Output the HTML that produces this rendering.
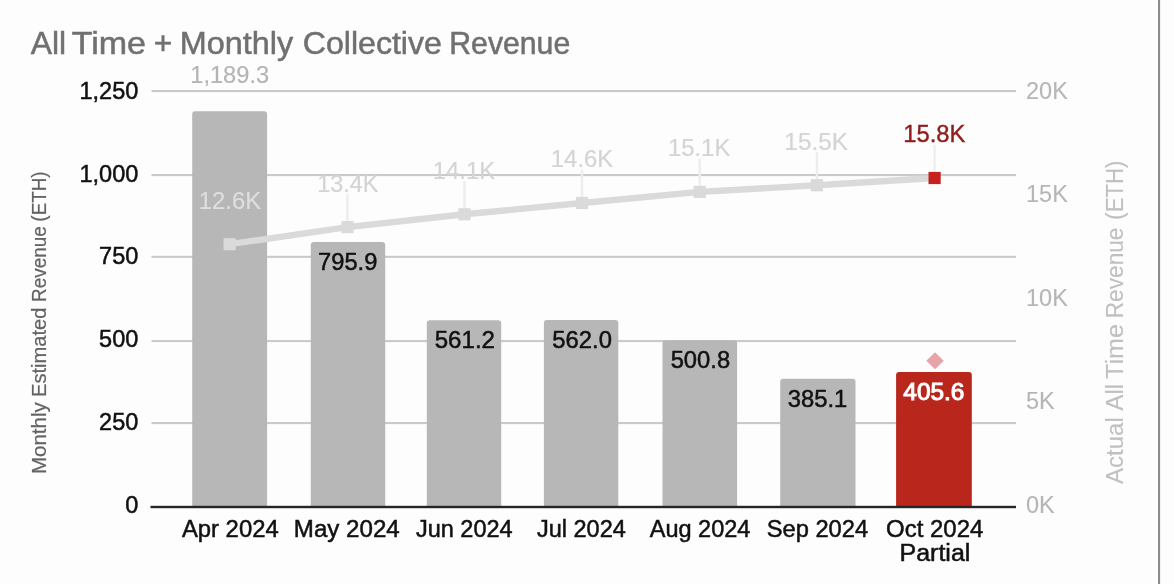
<!DOCTYPE html>
<html lang="en"><head><meta charset="utf-8"><title>All Time + Monthly Collective Revenue</title>
<style>html,body{margin:0;padding:0;background:#fdfdfd;}body{width:1174px;height:584px;overflow:hidden;font-family:"Liberation Sans",sans-serif;}svg{display:block;}text{font-family:"Liberation Sans",sans-serif;}</style></head><body>
<svg width="1174" height="584" viewBox="0 0 1174 584">
<rect x="0" y="0" width="1174" height="584" fill="#fdfdfd"/>
<rect x="1158" y="0" width="2.1" height="584" fill="#8c8c8c"/>
<text x="30.70" y="53.70" font-size="30.5" fill="#707070" stroke="#707070" stroke-width="0.5" textLength="35.42" lengthAdjust="spacingAndGlyphs">All</text>
<text x="71.72" y="53.70" font-size="30.5" fill="#707070" stroke="#707070" stroke-width="0.5" textLength="74.32" lengthAdjust="spacingAndGlyphs">Time</text>
<text x="153.81" y="53.70" font-size="30.5" fill="#707070" stroke="#707070" stroke-width="0.5" textLength="18.54" lengthAdjust="spacingAndGlyphs">+</text>
<text x="179.71" y="53.70" font-size="30.5" fill="#707070" stroke="#707070" stroke-width="0.5" textLength="113.44" lengthAdjust="spacingAndGlyphs">Monthly</text>
<text x="302.69" y="53.70" font-size="30.5" fill="#707070" stroke="#707070" stroke-width="0.5" textLength="139.25" lengthAdjust="spacingAndGlyphs">Collective</text>
<text x="449.28" y="53.70" font-size="30.5" fill="#707070" stroke="#707070" stroke-width="0.5" textLength="120.97" lengthAdjust="spacingAndGlyphs">Revenue</text>
<rect x="151.5" y="90.00" width="864.5" height="2.1" fill="#cacaca"/>
<rect x="151.5" y="174.00" width="864.5" height="2.1" fill="#cacaca"/>
<rect x="151.5" y="255.80" width="864.5" height="2.1" fill="#cacaca"/>
<rect x="151.5" y="340.00" width="864.5" height="2.1" fill="#cacaca"/>
<rect x="151.5" y="422.00" width="864.5" height="2.1" fill="#cacaca"/>
<path d="M192.20 507.0 V114.20 A3 3 0 0 1 195.20 111.20 H264.10 A3 3 0 0 1 267.10 114.20 V507.0 Z" fill="#b7b7b7"/>
<path d="M310.80 507.0 V245.12 A3 3 0 0 1 313.80 242.12 H382.20 A3 3 0 0 1 385.20 245.12 V507.0 Z" fill="#b7b7b7"/>
<path d="M426.80 507.0 V323.23 A3 3 0 0 1 429.80 320.23 H498.20 A3 3 0 0 1 501.20 323.23 V507.0 Z" fill="#b7b7b7"/>
<path d="M543.90 507.0 V322.97 A3 3 0 0 1 546.90 319.97 H615.30 A3 3 0 0 1 618.30 322.97 V507.0 Z" fill="#b7b7b7"/>
<path d="M662.50 507.0 V343.33 A3 3 0 0 1 665.50 340.33 H734.10 A3 3 0 0 1 737.10 343.33 V507.0 Z" fill="#b7b7b7"/>
<path d="M780.20 507.0 V381.84 A3 3 0 0 1 783.20 378.84 H852.50 A3 3 0 0 1 855.50 381.84 V507.0 Z" fill="#b7b7b7"/>
<path d="M896.10 507.0 V375.02 A3 3 0 0 1 899.10 372.02 H968.80 A3 3 0 0 1 971.80 375.02 V507.0 Z" fill="#b9261c"/>
<rect x="150.5" y="505.8" width="865.5" height="2.4" fill="#262626"/>
<text x="138.3" y="98.80" font-size="23.5" fill="#111111" stroke="#111111" stroke-width="0.5" text-anchor="end">1,250</text>
<text x="138.3" y="181.64" font-size="23.5" fill="#111111" stroke="#111111" stroke-width="0.5" text-anchor="end">1,000</text>
<text x="138.3" y="264.48" font-size="23.5" fill="#111111" stroke="#111111" stroke-width="0.5" text-anchor="end">750</text>
<text x="138.3" y="347.32" font-size="23.5" fill="#111111" stroke="#111111" stroke-width="0.5" text-anchor="end">500</text>
<text x="138.3" y="430.16" font-size="23.5" fill="#111111" stroke="#111111" stroke-width="0.5" text-anchor="end">250</text>
<text x="138.3" y="513.00" font-size="23.5" fill="#111111" stroke="#111111" stroke-width="0.5" text-anchor="end">0</text>
<text x="1026" y="98.80" font-size="23.5" fill="#b6b6b6" stroke="#b6b6b6" stroke-width="0.1">20K</text>
<text x="1026" y="202.30" font-size="23.5" fill="#b6b6b6" stroke="#b6b6b6" stroke-width="0.1">15K</text>
<text x="1026" y="305.80" font-size="23.5" fill="#b6b6b6" stroke="#b6b6b6" stroke-width="0.1">10K</text>
<text x="1026" y="409.30" font-size="23.5" fill="#b6b6b6" stroke="#b6b6b6" stroke-width="0.1">5K</text>
<text x="1026" y="512.80" font-size="23.5" fill="#b6b6b6" stroke="#b6b6b6" stroke-width="0.1">0K</text>
<g transform="translate(46,472.5) rotate(-90)">
<text x="-1.64" y="0.00" font-size="19.5" fill="#636363" stroke="#636363" stroke-width="0.2" textLength="71.87" lengthAdjust="spacingAndGlyphs">Monthly</text>
<text x="75.59" y="0.00" font-size="19.5" fill="#636363" stroke="#636363" stroke-width="0.2" textLength="89.34" lengthAdjust="spacingAndGlyphs">Estimated</text>
<text x="170.59" y="0.00" font-size="19.5" fill="#636363" stroke="#636363" stroke-width="0.2" textLength="75.72" lengthAdjust="spacingAndGlyphs">Revenue</text>
<text x="250.87" y="0.00" font-size="19.5" fill="#636363" stroke="#636363" stroke-width="0.2" textLength="50.29" lengthAdjust="spacingAndGlyphs">(ETH)</text>
</g>
<g transform="translate(1123,484) rotate(-90)">
<text x="0.00" y="0.00" font-size="23.5" fill="#c0c0c0" stroke="#c0c0c0" stroke-width="0.1" textLength="66.77" lengthAdjust="spacingAndGlyphs">Actual</text>
<text x="73.30" y="0.00" font-size="23.5" fill="#c0c0c0" stroke="#c0c0c0" stroke-width="0.1" textLength="26.91" lengthAdjust="spacingAndGlyphs">All</text>
<text x="105.00" y="0.00" font-size="23.5" fill="#c0c0c0" stroke="#c0c0c0" stroke-width="0.1" textLength="55.04" lengthAdjust="spacingAndGlyphs">Time</text>
<text x="165.69" y="0.00" font-size="23.5" fill="#c0c0c0" stroke="#c0c0c0" stroke-width="0.1" textLength="90.80" lengthAdjust="spacingAndGlyphs">Revenue</text>
<text x="264.27" y="0.00" font-size="23.5" fill="#c0c0c0" stroke="#c0c0c0" stroke-width="0.1" textLength="59.09" lengthAdjust="spacingAndGlyphs">(ETH)</text>
</g>
<rect x="346.30" y="194.00" width="2.4" height="27.10" fill="#ededed"/>
<rect x="463.30" y="181.20" width="2.4" height="27.10" fill="#ededed"/>
<rect x="580.80" y="169.90" width="2.4" height="27.10" fill="#ededed"/>
<rect x="698.50" y="158.80" width="2.4" height="27.10" fill="#ededed"/>
<rect x="815.70" y="152.10" width="2.4" height="27.10" fill="#ededed"/>
<rect x="933.40" y="144.90" width="2.4" height="27.10" fill="#f1eded"/>
<polyline points="229.60,244.20 347.50,227.10 464.50,214.30 582.00,203.00 699.70,191.90 816.90,185.20 934.60,178.00" fill="none" stroke="#dadada" stroke-width="6.4" stroke-linejoin="round"/>
<rect x="223.50" y="238.10" width="12.2" height="12.2" fill="#dadada"/>
<text x="198.71" y="208.60" font-size="23.5" fill="#dedede" stroke="#dedede" stroke-width="0.2" textLength="62.41" lengthAdjust="spacingAndGlyphs">12.6K</text>
<rect x="341.40" y="221.00" width="12.2" height="12.2" fill="#dadada"/>
<text x="317.24" y="191.50" font-size="23.5" fill="#d4d4d4" stroke="#d4d4d4" stroke-width="0.2" textLength="61.27" lengthAdjust="spacingAndGlyphs">13.4K</text>
<rect x="458.40" y="208.20" width="12.2" height="12.2" fill="#dadada"/>
<text x="432.71" y="178.70" font-size="23.5" fill="#d4d4d4" stroke="#d4d4d4" stroke-width="0.2" textLength="62.51" lengthAdjust="spacingAndGlyphs">14.1K</text>
<rect x="575.90" y="196.90" width="12.2" height="12.2" fill="#dadada"/>
<text x="550.81" y="167.40" font-size="23.5" fill="#d4d4d4" stroke="#d4d4d4" stroke-width="0.2" textLength="62.51" lengthAdjust="spacingAndGlyphs">14.6K</text>
<rect x="693.60" y="185.80" width="12.2" height="12.2" fill="#dadada"/>
<text x="667.91" y="156.30" font-size="23.5" fill="#d4d4d4" stroke="#d4d4d4" stroke-width="0.2" textLength="62.41" lengthAdjust="spacingAndGlyphs">15.1K</text>
<rect x="810.80" y="179.10" width="12.2" height="12.2" fill="#dadada"/>
<text x="784.38" y="149.60" font-size="23.5" fill="#d4d4d4" stroke="#d4d4d4" stroke-width="0.2" textLength="63.55" lengthAdjust="spacingAndGlyphs">15.5K</text>
<rect x="928.50" y="171.90" width="12.2" height="12.2" fill="#c5221f"/>
<text x="903.32" y="142.40" font-size="23.5" fill="#8f1b1b" stroke="#8f1b1b" stroke-width="0.4" textLength="62.00" lengthAdjust="spacingAndGlyphs">15.8K</text>
<text x="190.23" y="82.80" font-size="23.5" fill="#b4b4b4" stroke="#b4b4b4" stroke-width="0.15" textLength="78.96" lengthAdjust="spacingAndGlyphs">1,189.3</text>
<text x="318.12" y="269.82" font-size="23.5" fill="#111111" stroke="#111111" stroke-width="0.5" textLength="59.21" lengthAdjust="spacingAndGlyphs">795.9</text>
<text x="434.74" y="347.93" font-size="23.5" fill="#111111" stroke="#111111" stroke-width="0.5" textLength="60.23" lengthAdjust="spacingAndGlyphs">561.2</text>
<text x="552.35" y="347.67" font-size="23.5" fill="#111111" stroke="#111111" stroke-width="0.5" textLength="59.54" lengthAdjust="spacingAndGlyphs">562.0</text>
<text x="670.65" y="368.03" font-size="23.5" fill="#111111" stroke="#111111" stroke-width="0.5" textLength="59.46" lengthAdjust="spacingAndGlyphs">500.8</text>
<text x="787.75" y="406.54" font-size="23.5" fill="#111111" stroke="#111111" stroke-width="0.5" textLength="59.58" lengthAdjust="spacingAndGlyphs">385.1</text>
<text x="903.31" y="399.62" font-size="23.5" fill="#ffffff" stroke="#ffffff" stroke-width="1.0" textLength="61.13" lengthAdjust="spacingAndGlyphs">405.6</text>
<path d="M935.0 352.3 L943.7 360.8 L935.0 369.3 L926.3 360.8 Z" fill="#e6a3aa"/>
<text x="181.90" y="536.80" font-size="23.5" fill="#111111" stroke="#111111" stroke-width="0.5" textLength="96.79" lengthAdjust="spacingAndGlyphs">Apr 2024</text>
<text x="293.87" y="536.80" font-size="23.5" fill="#111111" stroke="#111111" stroke-width="0.5" textLength="105.89" lengthAdjust="spacingAndGlyphs">May 2024</text>
<text x="464.30" y="536.8" font-size="23.5" fill="#111111" stroke="#111111" stroke-width="0.5" text-anchor="middle">Jun 2024</text>
<text x="581.40" y="536.8" font-size="23.5" fill="#111111" stroke="#111111" stroke-width="0.5" text-anchor="middle">Jul 2024</text>
<text x="700.10" y="536.8" font-size="23.5" fill="#111111" stroke="#111111" stroke-width="0.5" text-anchor="middle">Aug 2024</text>
<text x="766.73" y="536.80" font-size="23.5" fill="#111111" stroke="#111111" stroke-width="0.5" textLength="101.42" lengthAdjust="spacingAndGlyphs">Sep 2024</text>
<text x="886.12" y="536.80" font-size="23.5" fill="#111111" stroke="#111111" stroke-width="0.5" textLength="97.17" lengthAdjust="spacingAndGlyphs">Oct 2024</text>
<text x="899.50" y="561.00" font-size="23.5" fill="#111111" stroke="#111111" stroke-width="0.5" textLength="70.84" lengthAdjust="spacingAndGlyphs">Partial</text>
</svg></body></html>
